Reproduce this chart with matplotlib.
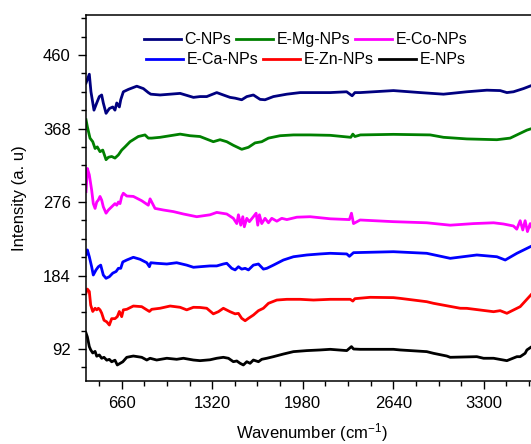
import matplotlib
matplotlib.use("Agg")
import matplotlib.pyplot as plt
from matplotlib.ticker import MultipleLocator

plt.rcParams['font.family'] = ['Liberation Sans', 'DejaVu Sans']
plt.rcParams['mathtext.fontset'] = 'custom'
plt.rcParams['mathtext.rm'] = 'Liberation Sans'
plt.rcParams['mathtext.it'] = 'Liberation Sans:italic'

# FTIR spectra (wavenumber, intensity)
c_x = [400, 424, 436, 458, 478, 497, 514, 526, 546, 570, 595, 611, 624, 643, 653, 672, 709, 770, 818, 854, 872,
       940, 1013, 1086, 1183, 1231, 1280, 1353, 1401, 1450, 1487, 1535, 1572, 1620, 1669, 1705, 1766, 1864, 1961,
       2082, 2180, 2300, 2340, 2360, 2398, 2641, 2836, 3006, 3176, 3322, 3419, 3468, 3516, 3589, 3650]
c_y = [425, 436, 414, 391, 400, 408, 410, 400, 387, 393, 395, 391, 400, 395, 404, 414, 417, 421, 418, 413, 411,
       410, 411, 412, 407, 408, 408, 413, 410, 407, 406, 404, 408, 410, 404.5, 404, 408, 411, 413,
       413, 413, 414, 409, 413, 413, 415.5, 413, 411, 414, 416, 415.5, 413, 414, 418, 422]

mg_x = [400, 410, 429, 449, 466, 482, 502, 522, 546, 563, 587, 611, 636, 660, 684, 721, 781, 830, 854, 879, 940,
        1013, 1086, 1158, 1231, 1328, 1377, 1426, 1474, 1535, 1584, 1632, 1681, 1730, 1815, 1912, 2034, 2180, 2330,
        2345, 2360, 2400, 2641, 2909, 3006, 3176, 3395, 3492, 3565, 3614, 3650]
mg_y = [379, 370, 356, 351.5, 343, 345, 339, 341, 329, 332, 333, 331, 335, 341, 345, 351.5, 358, 360, 356, 356, 357,
        359, 361, 359, 358, 351.5, 354, 351.5, 347, 342, 344.5, 350, 351.5, 356, 359, 360, 360, 359.5, 357,
        361, 358, 360, 360.7, 360, 357, 355, 354, 356, 362, 366, 368]

co_x = [400, 410, 424, 441, 453, 466, 478, 490, 502, 514, 526, 546, 563, 587, 611, 624, 636, 648, 660, 672, 697,
        745, 806, 854, 867, 903, 964, 1037, 1110, 1207, 1304, 1353, 1426, 1474, 1499, 1511, 1528, 1543, 1554, 1572,
        1591, 1620, 1640, 1652, 1664, 1681, 1705, 1730, 1754, 1791, 1827, 1864, 1937, 2034, 2180, 2320, 2335, 2350,
        2398, 2641, 2884, 3055, 3225, 3371, 3443, 3516, 3540, 3565, 3584, 3601, 3618, 3638, 3650]
co_y = [289, 318, 310, 291, 274, 268, 276, 278.5, 283, 278.5, 270, 262, 266, 270, 274, 272, 276, 274, 283, 287, 283.5,
        283, 277.6, 272, 280, 268, 266, 264, 261, 257.6, 260, 263, 261, 255.6, 249, 260, 247, 257.6, 245, 255.6,
        251.4, 257.6, 262, 247, 260, 249, 255.6, 250, 255.6, 252, 255.6, 254, 257, 257.6, 255, 254, 262, 249,
        253.5, 251.4, 250, 247, 249, 250, 248.5, 246, 242, 252.6, 241, 252.6, 239, 249, 244]

ca_x = [400, 410, 424, 441, 453, 473, 490, 507, 526, 546, 570, 595, 619, 636, 653, 668, 697, 745, 794, 843, 862,
        872, 915, 989, 1061, 1134, 1183, 1231, 1304, 1353, 1401, 1426, 1462, 1487, 1511, 1535, 1560, 1584, 1620,
        1657, 1693, 1718, 1766, 1839, 1912, 2010, 2107, 2180, 2301, 2320, 2350, 2641, 2884, 3055, 3249, 3395,
        3456, 3541, 3650]
ca_y = [210, 216, 207.5, 195, 184.6, 191, 195, 197, 184.6, 180.5, 182.5, 187, 189, 193, 193, 201, 203.4, 206.8,
        204.3, 200, 195, 200, 199.3, 198.4, 200, 197, 194.3, 195, 196, 196, 198.4, 199.3, 193, 191, 195, 192, 193,
        191, 197, 198.4, 192, 193, 197, 203.4, 207.5, 209.7, 211, 211.8, 211, 208, 212.6, 213.8, 211.8, 205.5,
        209.7, 207.5, 203.4, 211.8, 221]

zn_x = [400, 410, 424, 434, 449, 466, 478, 490, 502, 514, 531, 551, 570, 587, 611, 628, 643, 660, 672, 697, 745,
        806, 843, 862, 879, 940, 1013, 1086, 1134, 1183, 1231, 1280, 1328, 1365, 1401, 1450, 1487, 1511, 1535, 1560,
        1584, 1620, 1657, 1693, 1730, 1791, 1864, 1961, 2058, 2180, 2326, 2345, 2360, 2471, 2641, 2690, 2884, 2933,
        3128, 3176, 3371, 3419, 3468, 3565, 3650]
zn_y = [162, 167, 164, 147, 139, 143, 141, 143, 141, 137, 128, 126, 122, 130, 130, 132.5, 139, 132.5, 141, 141.7,
        145.8, 145, 141, 139, 141.7, 143, 145.8, 144.2, 141, 144.2, 144, 143, 136, 138.7, 143, 138.7, 136, 136.6,
        130.4, 127.4, 130.4, 134.5, 140, 143, 149.2, 153.3, 154.2, 154.2, 153.3, 154.2, 154.2, 152, 155, 156.7,
        156.3, 155.4, 151.2, 149.2, 143, 142.9, 138.7, 140, 136.7, 145, 161]

e_x = [400, 410, 424, 434, 449, 466, 478, 497, 514, 531, 551, 570, 587, 611, 628, 648, 668, 697, 745, 806, 843,
       867, 915, 989, 1061, 1110, 1183, 1231, 1304, 1353, 1401, 1438, 1474, 1499, 1523, 1547, 1572, 1596, 1620,
       1657, 1681, 1718, 1766, 1839, 1912, 2010, 2107, 2180, 2301, 2335, 2350, 2398, 2641, 2690, 2884, 2933, 3030,
       3055, 3249, 3298, 3371, 3468, 3541, 3565, 3601, 3614, 3650]
e_y = [112, 107, 95, 91, 87, 89, 83, 84.5, 80.4, 81.6, 78, 79, 76, 78, 72, 74, 76, 81.6, 83.2, 81.6, 78.2,
       80.4, 78.2, 80.4, 79.1, 80.4, 78.2, 77.4, 78.5, 80.4, 81.6, 80.4, 76.1, 77, 74.1, 72, 76.1, 74.1, 78.2,
       76.1, 79.1, 80.4, 82.4, 85.7, 88.7, 90, 90.8, 91.6, 90, 95, 92, 91.6, 91.6, 90.8, 88.7, 86.6, 83.2,
       81.6, 82.4, 80.4, 80.4, 77.4, 82.4, 82.4, 86.6, 90.8, 95]

x_ticks = [660, 1320, 1980, 2640, 3300]
y_ticks = [92, 184, 276, 368, 460]

fig = plt.figure(figsize=(5.31, 4.44), dpi=100)
# axes runs past the right edge of the figure, like the cropped original
ax = fig.add_axes([0.162, 0.142, 0.93, 0.824])

lw = 2.0
l_c, = ax.plot(c_x, c_y, color='#000080', lw=lw, label='C-NPs')
l_mg, = ax.plot(mg_x, mg_y, color='#008000', lw=lw, label='E-Mg-NPs')
l_co, = ax.plot(co_x, co_y, color='#ff00ff', lw=lw, label='E-Co-NPs')
l_ca, = ax.plot(ca_x, ca_y, color='#0000ff', lw=lw, label='E-Ca-NPs')
l_zn, = ax.plot(zn_x, zn_y, color='#ff0000', lw=lw, label='E-Zn-NPs')
l_e, = ax.plot(e_x, e_y, color='#000000', lw=lw, label='E-NPs')

ax.set_xlim(400, 4000)
ax.set_ylim(52, 510)
ax.set_xticks(x_ticks)
ax.set_yticks(y_ticks)
ax.xaxis.set_minor_locator(MultipleLocator(165))
ax.yaxis.set_minor_locator(MultipleLocator(23))
ax.tick_params(which='major', direction='out', length=6, width=1, labelsize=12, pad=5)
ax.tick_params(which='minor', direction='out', length=3.5, width=1)
for s in ax.spines.values():
    s.set_linewidth(1.1)

ax.set_xlabel('Wavenumber (cm$^{-1}$)', fontsize=12)
ax.set_ylabel('Intensity (a. u)', fontsize=12)
ax.xaxis.set_label_coords(0.458, -0.11)
ax.yaxis.set_label_coords(-0.12, 0.5)

# legend rows are laid out independently in the original
leg_kw = dict(ncol=3, frameon=False, fontsize=11.5, handlelength=2.3, handletextpad=0.25,
              columnspacing=0.3, borderpad=0, loc='center', bbox_transform=fig.transFigure)
leg1 = ax.legend(handles=[l_c, l_mg, l_co], bbox_to_anchor=(0.576, 0.91), **leg_kw)
ax.add_artist(leg1)
ax.legend(handles=[l_ca, l_zn, l_e], bbox_to_anchor=(0.576, 0.865), **leg_kw)

fig.savefig('out.png', dpi=100)
